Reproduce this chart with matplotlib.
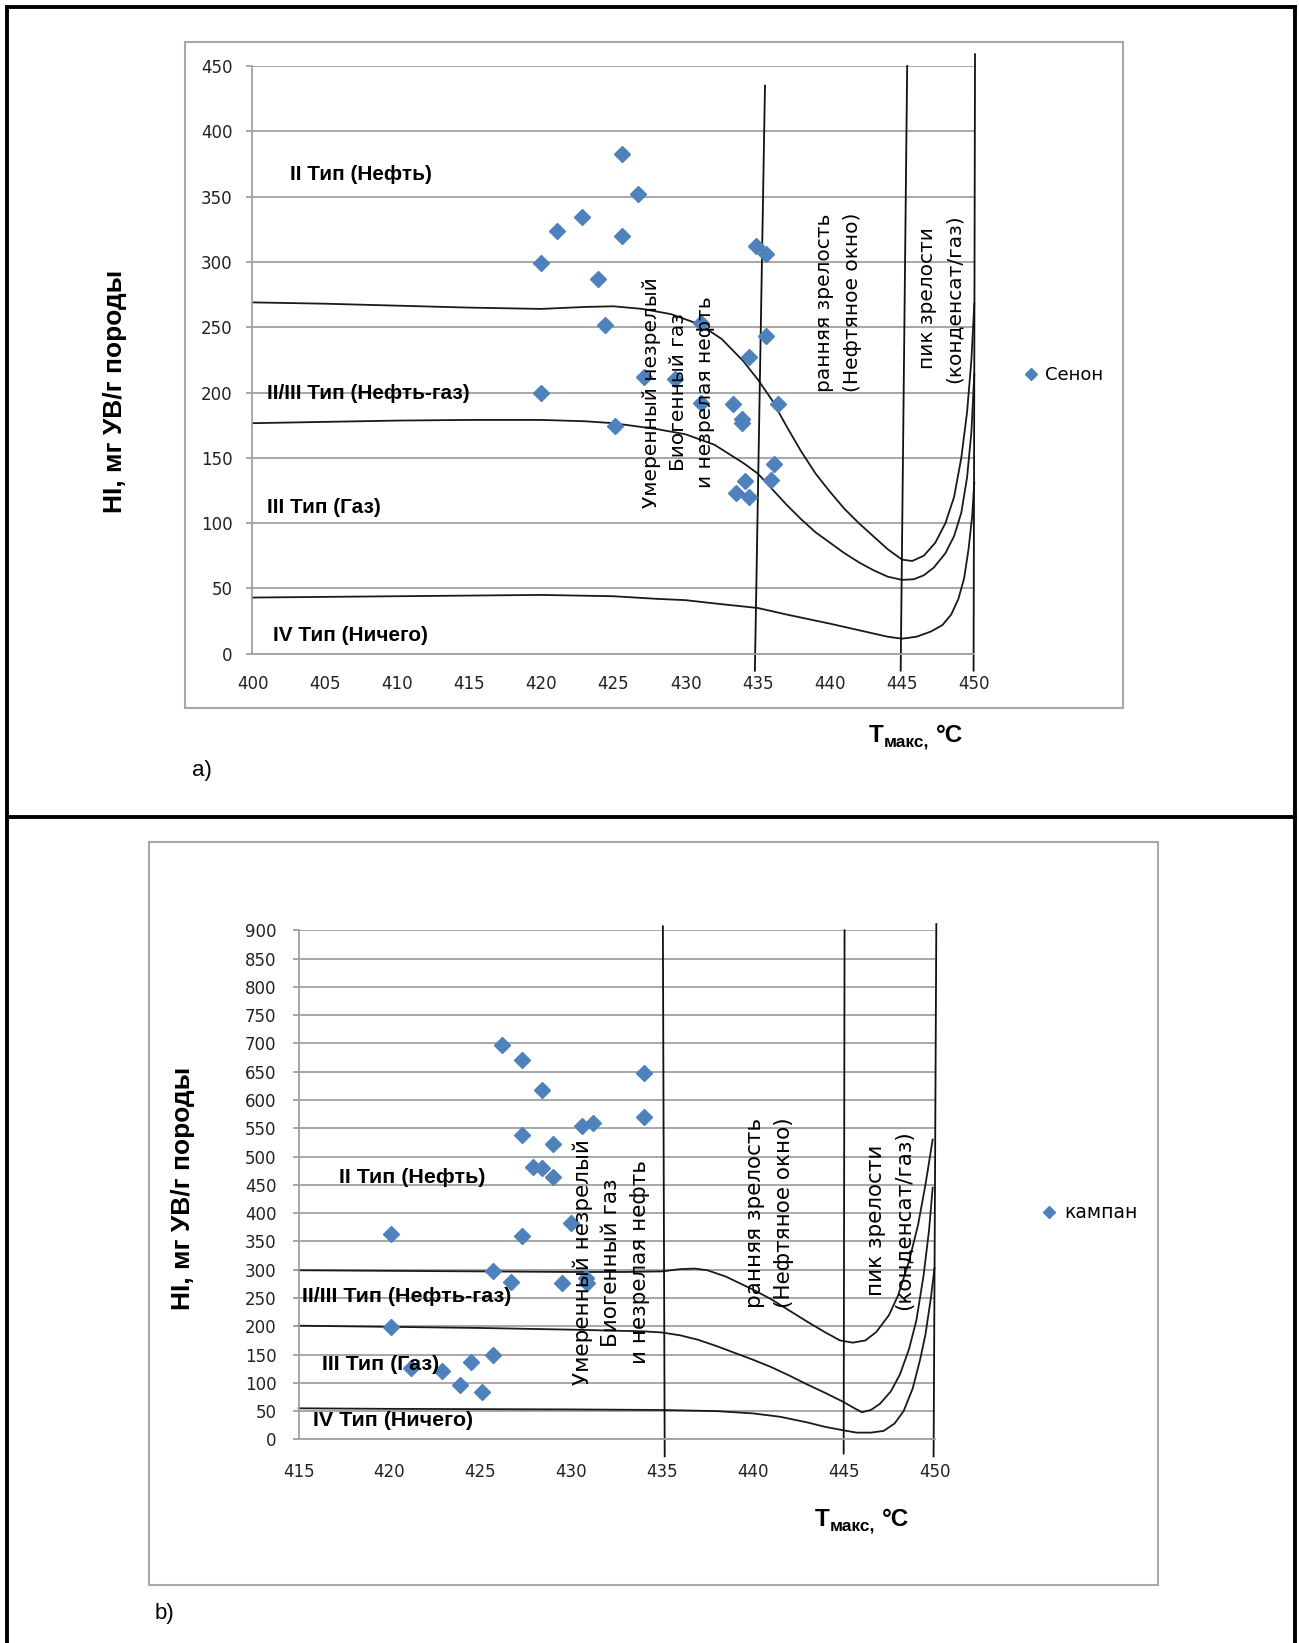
import matplotlib
matplotlib.use("Agg")
import matplotlib.pyplot as plt
from matplotlib import font_manager
from matplotlib.patches import Rectangle
from matplotlib.lines import Line2D

# ---------------- data: chart a) (Сенон) ----------------
a_pts_x = [425.6, 426.7, 422.8, 421.1, 425.6, 420.0, 423.9, 424.4, 420.0, 425.1,
           434.9, 435.6, 431.1, 435.6, 434.4, 427.1, 429.3, 431.1, 433.3, 433.9,
           433.9, 436.4, 436.1, 435.9, 434.1, 433.5, 434.4]
a_pts_y = [383, 352, 334, 324, 320, 299, 287, 252, 200, 174,
           312, 306, 253, 243, 227, 212, 210, 192, 191, 180,
           177, 191, 145, 133, 132, 123, 120]

a_up_x = [400, 405, 410, 415, 420, 423, 425, 427, 429, 431, 432.5, 434, 435, 436, 437,
          438, 439, 440, 441, 442, 443, 444, 445, 445.7, 446.5, 447.3, 448, 448.6,
          449.1, 449.5, 449.8, 450]
a_up_y = [269, 268, 266.5, 265, 264, 265.5, 266, 264, 260, 252, 241, 224, 210, 194, 174,
          155, 138, 124, 111, 100, 90, 80, 72, 71, 75, 85, 100, 120,
          150, 185, 225, 268]
a_mid_x = [400, 405, 410, 415, 420, 423, 425, 428, 430, 432, 433, 434, 435, 436, 437,
           438, 439, 440, 441, 442, 443, 444, 445, 445.8, 446.5, 447.2, 448, 448.6,
           449.1, 449.5, 449.8, 450]
a_mid_y = [176.5, 177.5, 178.5, 179, 179, 178, 176.5, 172, 168, 160, 153, 146, 138, 126, 114,
           103, 93, 85, 77, 70, 64, 59, 56.5, 57, 60, 66, 77, 90,
           108, 135, 170, 214]
a_low_x = [400, 405, 410, 415, 420, 425, 428, 430, 432, 435, 437, 440, 442, 444, 445,
           446, 447, 447.8, 448.4, 448.9, 449.3, 449.6, 449.85, 450]
a_low_y = [43, 43.5, 44, 44.5, 45, 44, 42, 41, 38.5, 35, 30, 23, 18, 13, 11.5,
           13, 17, 22, 30, 42, 58, 80, 105, 131]
# maturity boundaries: (x_top, y_top, x_bottom, y_bottom)
a_vlines = [(435.5, 435, 434.8, -13), (445.35, 450, 444.9, -13), (450.05, 459, 449.95, -13)]

# ---------------- data: chart b) (кампан) ----------------
b_pts_x = [426.2, 427.3, 428.4, 434.0, 434.0, 427.3, 429.0, 430.6, 431.2, 427.9,
           428.4, 429.0, 420.1, 427.3, 430.0, 425.7, 426.7, 429.5, 430.8, 430.9,
           420.1, 425.7, 424.5, 422.9, 421.2, 423.9, 425.1]
b_pts_y = [698, 671, 618, 648, 570, 539, 523, 554, 559, 482,
           479, 463, 363, 360, 382, 298, 279, 276, 285, 276,
           198, 149, 136, 121, 126, 96, 83]

b_up_x = [415, 420, 425, 430, 433, 435, 436, 436.8, 437.5, 438.5, 440, 441, 442, 443,
          444, 444.8, 445.5, 446.2, 446.8, 447.5, 448, 448.6, 449.1, 449.5, 449.9]
b_up_y = [299, 298, 297, 296, 296, 297, 301, 302, 299, 288, 265, 248, 228, 208,
          189, 175, 171, 175, 190, 220, 255, 315, 380, 450, 530]
b_mid_x = [415, 420, 425, 430, 434, 435, 436, 437, 438, 439, 440, 441, 442, 443, 444,
           445, 445.6, 446, 446.5, 447, 447.6, 448.1, 448.6, 449, 449.4, 449.7, 449.9]
b_mid_y = [201, 199, 197, 194, 191, 189, 184, 176, 165, 153, 141, 128, 113, 97, 82,
           66, 55, 48, 52, 63, 85, 115, 160, 210, 290, 370, 445]
b_low_x = [415, 420, 425, 430, 435, 438, 440, 441.5, 443, 444, 445, 445.7, 446.5, 447.2,
           447.8, 448.3, 448.8, 449.2, 449.5, 449.8, 450]
b_low_y = [55, 54, 53.5, 53, 52, 50, 46, 40, 30, 22, 16, 12, 12, 15,
           28, 50, 90, 140, 185, 250, 303]
b_vlines = [(435.05, 907, 435.15, -30), (445.05, 900, 445.0, -25), (450.1, 911, 449.95, -30)]

a_xticks = list(range(400, 451, 5))
a_yticks = list(range(0, 451, 50))
b_xticks = list(range(415, 451, 5))
b_yticks = list(range(0, 901, 50))

type_labels = ["II Тип (Нефть)", "II/III Тип (Нефть-газ)", "III Тип (Газ)", "IV Тип (Ничего)"]
zone1 = "Умеренный незрелый\nБиогенный газ\nи незрелая нефть"
zone2 = "ранняя зрелость\n(Нефтяное окно)"
zone3 = "пик зрелости\n(конденсат/газ)"
ylabel = "HI, мг УВ/г породы"

# ---------------- figure ----------------
W, H = 1299, 1643
fig = plt.figure(figsize=(W / 100, H / 100), dpi=100)

def fx(px):
    return px / W

def fy(py):
    return 1 - py / H

avail = {f.name for f in font_manager.fontManager.ttflist}
if "Liberation Sans Narrow" in avail:
    LBL_FONT, LBL_SCALE = "Liberation Sans Narrow", 1.0
else:
    LBL_FONT, LBL_SCALE = "Liberation Sans", 0.8

GRID = "#a0a0a0"
MARK = "#4f81bd"


def style(ax, xlim, ylim, xt, yt, ypad, xpad):
    ax.set_xlim(*xlim)
    ax.set_ylim(*ylim)
    ax.set_xticks(xt)
    ax.set_yticks(yt)
    ax.grid(axis="y", color=GRID, lw=1.3)
    ax.set_axisbelow(True)
    for s in ["top", "right"]:
        ax.spines[s].set_visible(False)
    for s in ["left", "bottom"]:
        ax.spines[s].set_color(GRID)
        ax.spines[s].set_linewidth(1.3)
    ax.tick_params(axis="y", length=4.5, width=1.3, color=GRID, pad=ypad,
                   labelsize=12, labelcolor="#222222")
    ax.tick_params(axis="x", length=0, pad=xpad, labelsize=12, labelcolor="#222222")
    for lab in ax.get_xticklabels() + ax.get_yticklabels():
        lab.set_family("DejaVu Sans")


def draw_chart(ax, curves, vlines, labels_pos, lsize, z1, z2, z3, zsize):
    for cx, cy in curves:
        ax.plot(cx, cy, color="#1a1a1a", lw=1.3, clip_on=False, zorder=2)
    for xt_, yt_, xb_, yb_ in vlines:
        ax.plot([xt_, xb_], [yt_, yb_], color="#111111", lw=1.3, clip_on=False, zorder=2)
    for txt, (tx, ty) in zip(type_labels, labels_pos):
        ax.text(tx, ty, txt, ha="left", va="center", family=LBL_FONT,
                fontweight="bold", fontsize=lsize * LBL_SCALE, zorder=5)
    for txt, (tx, ty) in zip([zone1, zone2, zone3], [z1, z2, z3]):
        ax.text(tx, ty, txt, rotation=90, ha="center", va="center",
                multialignment="center", family="DejaVu Sans", fontsize=zsize,
                linespacing=1.55, zorder=5)


# chart a)
ax_a = fig.add_axes([fx(252.5), fy(653.7), fx(974.3) - fx(252.5), fy(66) - fy(653.7)])
style(ax_a, (400, 450), (0, 450), a_xticks, a_yticks, ypad=10, xpad=15)
draw_chart(ax_a,
           [(a_up_x, a_up_y), (a_mid_x, a_mid_y), (a_low_x, a_low_y)], a_vlines,
           [(402.6, 367), (401.0, 199.6), (401.0, 112), (401.4, 14.3)], 18.7,
           (429.5, 200), (440.6, 269), (447.7, 272), 14.5)
ax_a.plot(a_pts_x, a_pts_y, ls="none", marker="D", ms=8.3, color=MARK, mec=MARK,
          zorder=3, label="Сенон", clip_on=False)
ax_a.legend(loc="center left", bbox_to_anchor=(fx(1013), fy(375)),
            bbox_transform=fig.transFigure, frameon=False, borderpad=0,
            handlelength=1.0, handletextpad=0.3, markerscale=0.7,
            prop={"family": "DejaVu Sans", "size": 13})

# chart b)
ax_b = fig.add_axes([fx(298.6), fy(1439.4), fx(934.5) - fx(298.6), fy(930.3) - fy(1439.4)])
style(ax_b, (415, 450), (0, 900), b_xticks, b_yticks, ypad=11.5, xpad=17)
draw_chart(ax_b,
           [(b_up_x, b_up_y), (b_mid_x, b_mid_y), (b_low_x, b_low_y)], b_vlines,
           [(417.2, 463), (415.2, 252), (416.3, 133), (415.8, 33)], 19.3,
           (432.2, 313), (440.9, 400), (447.55, 387), 15.5)
ax_b.plot(b_pts_x, b_pts_y, ls="none", marker="D", ms=8.3, color=MARK, mec=MARK,
          zorder=3, label="кампан", clip_on=False)
ax_b.legend(loc="center left", bbox_to_anchor=(fx(1030), fy(1213)),
            bbox_transform=fig.transFigure, frameon=False, borderpad=0,
            handlelength=1.0, handletextpad=0.3, markerscale=0.7,
            prop={"family": "DejaVu Sans", "size": 13.5})

# y labels
fig.text(fx(115), fy(391), ylabel, rotation=90, ha="center", va="center",
         family="Liberation Sans", fontweight="bold", fontsize=19)
fig.text(fx(183), fy(1188), ylabel, rotation=90, ha="center", va="center",
         family="Liberation Sans", fontweight="bold", fontsize=19)

# x labels: T with subscript "макс," then °C
renderer = fig.canvas.get_renderer()


def xlabel(x0, yc):
    t1 = fig.text(fx(x0), fy(yc), "T", ha="left", va="center",
                  family="Liberation Sans", fontweight="bold", fontsize=17.5)
    e1 = t1.get_window_extent(renderer)
    t2 = fig.text(e1.x1 / W, fy(yc + 6), "макс,", ha="left", va="center",
                  family="Liberation Sans", fontweight="bold", fontsize=12.5)
    e2 = t2.get_window_extent(renderer)
    fig.text((e2.x1 + 7) / W, fy(yc), "°C", ha="left", va="center",
             family="Liberation Sans", fontweight="bold", fontsize=17.5)


xlabel(869, 736)
xlabel(815, 1520)

# panel letters
fig.text(fx(202), fy(771), "a)", ha="center", va="center", family="Liberation Sans", fontsize=16)
fig.text(fx(164.5), fy(1613), "b)", ha="center", va="center", family="Liberation Sans", fontsize=16)

# chart frames (grey)
for (x0, y0, x1, y1) in [(185, 42, 1123, 708), (148.8, 842.3, 1157.6, 1585)]:
    fig.add_artist(Rectangle((fx(x0), fy(y1)), fx(x1) - fx(x0), fy(y0) - fy(y1),
                             transform=fig.transFigure, fill=False,
                             edgecolor="#a8a8a8", lw=1.5))

# outer table borders (black)
bk = dict(color="black", lw=2.8, transform=fig.transFigure)
fig.add_artist(Line2D([fx(7), fx(7)], [fy(7), 0], **bk))
fig.add_artist(Line2D([fx(1295), fx(1295)], [fy(7), 0], **bk))
fig.add_artist(Line2D([fx(7), fx(1295)], [fy(7), fy(7)], **bk))
fig.add_artist(Line2D([fx(7), fx(1295)], [fy(817), fy(817)], **bk))

fig.savefig("out.png", dpi=100)
